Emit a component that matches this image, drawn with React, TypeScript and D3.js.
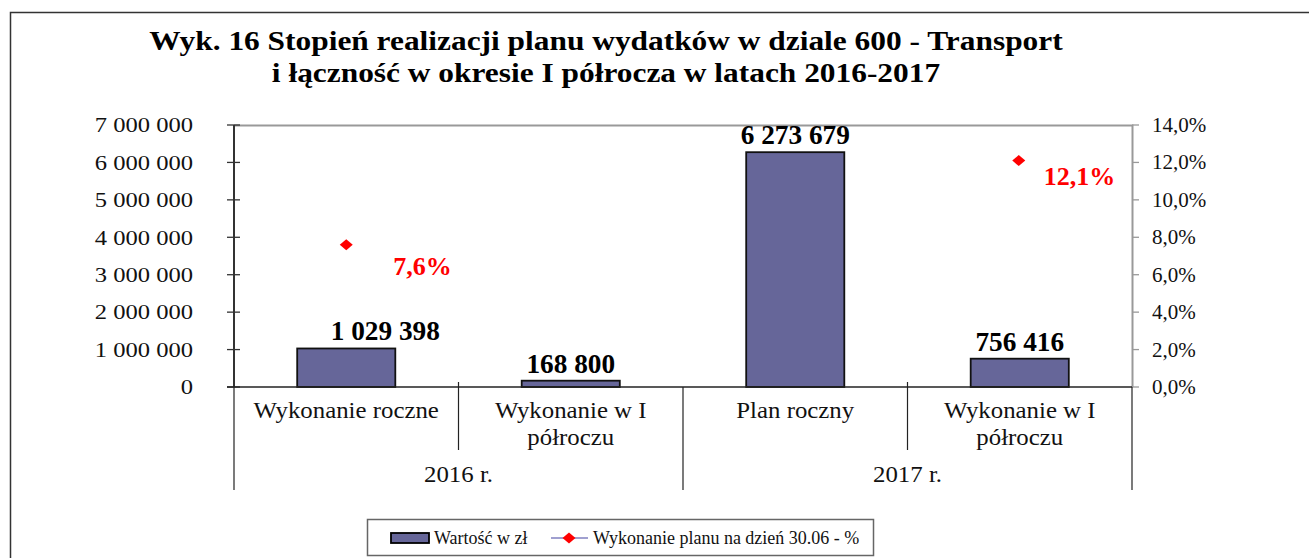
import React, { useRef, useEffect } from 'react';
import * as d3 from 'd3';

const categories = ['Wykonanie roczne', 'Wykonanie w I półroczu', 'Plan roczny', 'Wykonanie w I półroczu'];
const categoryLines = [['Wykonanie roczne'], ['Wykonanie w I', 'półroczu'], ['Plan roczny'], ['Wykonanie w I', 'półroczu']];
const years = ['2016 r.', '2017 r.'];
const values = [1029398, 168800, 6273679, 756416];
const percents: (number | null)[] = [0.076, null, null, 0.121];
const valueTicks = [0, 1000000, 2000000, 3000000, 4000000, 5000000, 6000000, 7000000];
const percentTicks = [0, 0.02, 0.04, 0.06, 0.08, 0.1, 0.12, 0.14];
const titleLines = [
  'Wyk. 16 Stopień realizacji planu wydatków w dziale 600 - Transport',
  'i łączność w okresie I półrocza w latach 2016-2017',
];
const legendLabels = ['Wartość w zł', 'Wykonanie planu na dzień 30.06 - %'];

const W = 1309;
const H = 558;
const FONT = '"Liberation Serif", "Times New Roman", serif';

type TextOpts = { size: number; bold?: boolean; anchor?: string; fill?: string; sx?: number; dy?: string };

// text stretched horizontally (the original chart was scaled wider than tall)
const addText = (parent: any, x: number, y: number, str: string, o: TextOpts) =>
  parent.append('text')
    .attr('transform', `translate(${x},${y}) scale(${o.sx ?? 1},1)`)
    .attr('dy', o.dy ?? null)
    .attr('text-anchor', o.anchor ?? 'start')
    .attr('font-family', FONT)
    .attr('font-weight', o.bold ? 'bold' : 'normal')
    .attr('font-size', o.size)
    .attr('fill', o.fill ?? '#111')
    .text(str);

const App = () => {
  const svgRef = useRef<SVGSVGElement>(null);

  useEffect(() => {
    const svg = d3.select(svgRef.current);
    svg.selectAll('*').remove();

    const pl = { left: 234, right: 1132, top: 125, bottom: 387 };
    const locale = d3.formatLocale({ decimal: ',', thousands: ' ', grouping: [3], currency: ['', ''] });
    const fmtNum = locale.format(',d');
    const fmtPct = locale.format('.1%');

    const x = d3.scaleBand<number>()
      .domain(d3.range(categories.length))
      .range([pl.left, pl.right])
      .padding(0);
    const y = d3.scaleLinear().domain([0, 7000000]).range([pl.bottom, pl.top]);
    const y2 = d3.scaleLinear().domain([0, 0.14]).range([pl.bottom, pl.top]);
    const barW = x.bandwidth() * 0.437;
    const cx = (i: number) => x(i)! + x.bandwidth() / 2;

    // outer frame
    svg.append('path')
      .attr('d', `M10.5,${H} V12.5 H${W}`)
      .attr('fill', 'none')
      .attr('stroke', '#333')
      .attr('stroke-width', 1.5);

    // title
    titleLines.forEach((t, i) => addText(svg, 606, 50 + i * 32, t, { size: 27, bold: true, anchor: 'middle', fill: '#000', sx: 1.163 }));

    // plot top border and right axis (gray)
    svg.append('path')
      .attr('d', `M${pl.left},${pl.top + 0.5} H${pl.right + 0.5} V${pl.bottom}`)
      .attr('fill', 'none')
      .attr('stroke', '#999')
      .attr('stroke-width', 2);

    // left axis
    const gl = svg.append('g');
    gl.append('line')
      .attr('x1', pl.left).attr('x2', pl.left)
      .attr('y1', pl.top).attr('y2', pl.bottom)
      .attr('stroke', '#333').attr('stroke-width', 2);
    gl.selectAll('.tk')
      .data(valueTicks)
      .enter()
      .append('line')
      .attr('x1', pl.left - 7).attr('x2', pl.left + 6)
      .attr('y1', d => y(d)).attr('y2', d => y(d))
      .attr('stroke', '#333').attr('stroke-width', 1.3);
    valueTicks.forEach(v => addText(gl, 193, y(v), fmtNum(v), { size: 22, anchor: 'end', dy: '0.33em', sx: 1.116 }));

    // right axis
    const gr = svg.append('g');
    gr.selectAll('.tk')
      .data(percentTicks)
      .enter()
      .append('line')
      .attr('x1', pl.right).attr('x2', pl.right + 7)
      .attr('y1', d => y2(d)).attr('y2', d => y2(d))
      .attr('stroke', '#999').attr('stroke-width', 1.3);
    percentTicks.forEach(v => addText(gr, 1152, y2(v), fmtPct(v), { size: 21, dy: '0.33em' }));

    // category separators
    const bounds = d3.range(categories.length + 1).map(i => (i < categories.length ? x(i)! : pl.right));
    svg.selectAll('.sep')
      .data(bounds)
      .enter()
      .append('line')
      .attr('x1', d => d).attr('x2', d => d)
      .attr('y1', (d, i) => (i % 2 === 0 ? pl.bottom : 382))
      .attr('y2', (d, i) => (i % 2 === 0 ? 490 : 450))
      .attr('stroke', '#222').attr('stroke-width', 1.2);

    // bars
    svg.selectAll('.bar')
      .data(values)
      .enter()
      .append('rect')
      .attr('class', 'bar')
      .attr('x', (d, i) => cx(i) - barW / 2)
      .attr('y', d => y(d))
      .attr('width', barW)
      .attr('height', d => pl.bottom - y(d))
      .attr('fill', '#666699')
      .attr('stroke', '#111')
      .attr('stroke-width', 1.8);

    // x axis baseline
    svg.append('line')
      .attr('x1', pl.left - 7).attr('x2', pl.right)
      .attr('y1', pl.bottom).attr('y2', pl.bottom)
      .attr('stroke', '#222').attr('stroke-width', 1.5);

    // bar value labels (first one nudged right as in the original)
    const valueShift = [39, 0, 0, 0];
    values.forEach((v, i) => addText(svg, cx(i) + valueShift[i], y(v) - 8, fmtNum(v), { size: 26.5, bold: true, anchor: 'middle', fill: '#000', sx: 1.03 }));

    // category labels
    categoryLines.forEach((lines, i) =>
      lines.forEach((l, j) => addText(svg, cx(i), 418 + j * 27, l, { size: 23, anchor: 'middle', sx: 1.08 })));

    // year labels
    years.forEach((yr, i) => addText(svg, (bounds[i * 2] + bounds[i * 2 + 2]) / 2, 482, yr, { size: 23, anchor: 'middle', sx: 1.08 }));

    // percent markers
    const pts = percents.map((p, i) => ({ p, i })).filter(d => d.p !== null) as { p: number; i: number }[];
    const diamond = 'M0,-5.5 L6.5,0 L0,5.5 L-6.5,0 Z';
    svg.selectAll('.pt')
      .data(pts)
      .enter()
      .append('path')
      .attr('d', diamond)
      .attr('transform', d => `translate(${cx(d.i) + (d.i === 3 ? -1 : 0)},${y2(d.p)})`)
      .attr('fill', '#ff0000');
    const pctShift: Record<number, [number, number]> = { 0: [47, 30], 3: [24, 24] };
    pts.forEach(d => addText(svg, cx(d.i) + pctShift[d.i][0], y2(d.p) + pctShift[d.i][1], fmtPct(d.p), { size: 26, bold: true, fill: '#ff0000' }));

    // legend
    const lg = svg.append('g');
    lg.append('rect')
      .attr('x', 367.5).attr('y', 519.5)
      .attr('width', 506).attr('height', 36)
      .attr('fill', '#fff')
      .attr('stroke', '#666').attr('stroke-width', 1.5);
    lg.append('rect')
      .attr('x', 391).attr('y', 533)
      .attr('width', 38).attr('height', 10)
      .attr('fill', '#666699')
      .attr('stroke', '#000').attr('stroke-width', 1.8);
    addText(lg, 434, 544, legendLabels[0], { size: 18 });
    lg.append('line')
      .attr('x1', 551).attr('x2', 588)
      .attr('y1', 538).attr('y2', 538)
      .attr('stroke', '#8080c0').attr('stroke-width', 1.5);
    lg.append('path')
      .attr('d', diamond)
      .attr('transform', 'translate(569,538)')
      .attr('fill', '#ff0000');
    addText(lg, 593, 544, legendLabels[1], { size: 18 });
  }, []);

  return (
    <svg
      ref={svgRef}
      width={W}
      height={H}
      style={{ position: 'absolute', left: 0, top: 0, background: '#fff' }}
    ></svg>
  );
};

export default App;
